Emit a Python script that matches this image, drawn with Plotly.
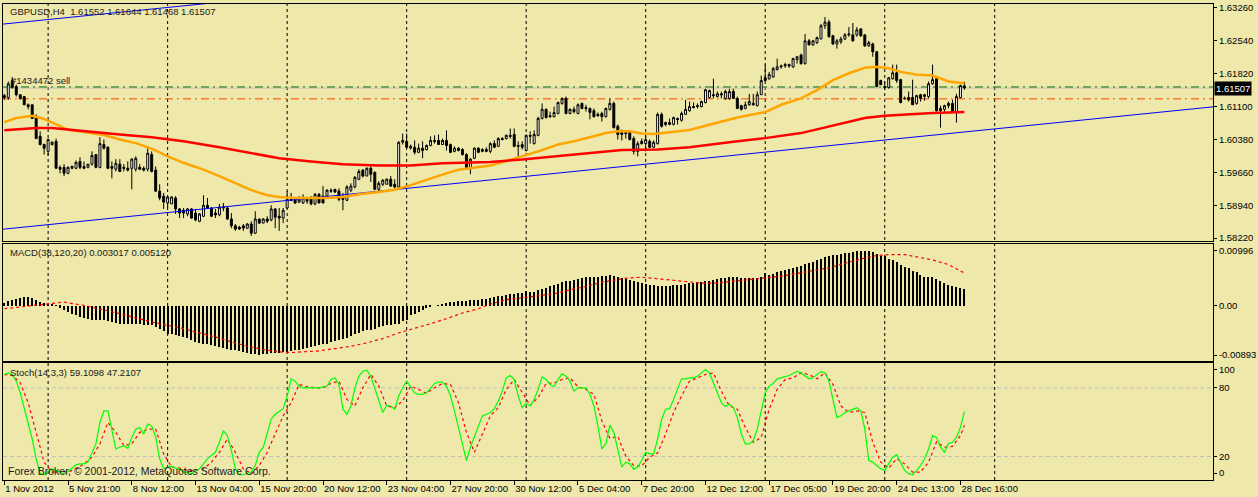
import plotly.graph_objects as go
from plotly.subplots import make_subplots

# GBPUSD H4, bar 0 = 1 Nov 2012, last bar = 28 Dec 20:00
opens = [
    1.6134, 1.6130, 1.6167, 1.6154, 1.6136, 1.6132, 1.6114, 1.6114, 1.6088, 1.6045,
    1.6027, 1.6012, 1.6027, 1.6034, 1.5977, 1.5977, 1.5964, 1.5975, 1.5975, 1.5990,
    1.5979, 1.5977, 1.5984, 1.6005, 1.5977, 1.6027, 1.6021, 1.5979, 1.5973, 1.5984,
    1.5977, 1.5975, 1.5975, 1.5973, 1.5977, 1.5975, 1.5973, 1.6005, 1.5971, 1.5925,
    1.5914, 1.5899, 1.5897, 1.5910, 1.5886, 1.5883, 1.5875, 1.5886, 1.5877, 1.5859,
    1.5870, 1.5894, 1.5888, 1.5877, 1.5873, 1.5888, 1.5888, 1.5864, 1.5849, 1.5846,
    1.5849, 1.5844, 1.5853, 1.5833, 1.5864, 1.5855, 1.5864, 1.5862, 1.5886, 1.5870,
    1.5866, 1.5888, 1.5907, 1.5907, 1.5901, 1.5899, 1.5910, 1.5910, 1.5897, 1.5918,
    1.5914, 1.5914, 1.5927, 1.5929, 1.5925, 1.5910, 1.5905, 1.5927, 1.5934, 1.5951,
    1.5971, 1.5958, 1.5975, 1.5966, 1.5929, 1.5940, 1.5940, 1.5951, 1.5940, 1.5934,
    1.6032, 1.6034, 1.6019, 1.6021, 1.6010, 1.6019, 1.6016, 1.6025, 1.6036, 1.6036,
    1.6027, 1.6036, 1.6027, 1.6012, 1.6019, 1.6016, 1.6005, 1.5975, 1.5997, 1.6019,
    1.6012, 1.6016, 1.6012, 1.6029, 1.6023, 1.6040, 1.6040, 1.6047, 1.6049, 1.6025,
    1.6027, 1.6014, 1.6047, 1.6029, 1.6047, 1.6084, 1.6104, 1.6090, 1.6088, 1.6095,
    1.6117, 1.6128, 1.6095, 1.6104, 1.6095, 1.6117, 1.6108, 1.6106, 1.6101, 1.6093,
    1.6095, 1.6088, 1.6104, 1.6117, 1.6067, 1.6053, 1.6053, 1.6053, 1.6040, 1.6012,
    1.6034, 1.6029, 1.6034, 1.6021, 1.6029, 1.6093, 1.6075, 1.6071, 1.6071, 1.6084,
    1.6080, 1.6093, 1.6101, 1.6110, 1.6110, 1.6110, 1.6119, 1.6130, 1.6136, 1.6132,
    1.6138, 1.6128, 1.6128, 1.6143, 1.6128, 1.6112, 1.6106, 1.6114, 1.6117, 1.6112,
    1.6136, 1.6173, 1.6171, 1.6175, 1.6191, 1.6197, 1.6199, 1.6202, 1.6197, 1.6213,
    1.6223, 1.6204, 1.6254, 1.6245, 1.6250, 1.6258, 1.6287, 1.6295, 1.6265, 1.6247,
    1.6252, 1.6258, 1.6267, 1.6267, 1.6267, 1.6280, 1.6267, 1.6243, 1.6247, 1.6230,
    1.6167, 1.6154, 1.6152, 1.6171, 1.6184, 1.6169, 1.6128, 1.6130, 1.6130, 1.6117,
    1.6136, 1.6132, 1.6132, 1.6160, 1.6171, 1.6106, 1.6104, 1.6112, 1.6117, 1.6099,
    1.6130, 1.61552,
]
highs = [
    1.6138, 1.6165, 1.6175, 1.6158, 1.6136, 1.6132, 1.6117, 1.6114, 1.6093, 1.6056,
    1.6029, 1.6040, 1.6034, 1.6040, 1.5981, 1.5984, 1.5979, 1.5981, 1.5992, 1.5999,
    1.5990, 1.5984, 1.6012, 1.6005, 1.6043, 1.6038, 1.6023, 1.5990, 1.5995, 1.5995,
    1.5984, 1.5990, 1.5997, 1.6001, 1.5984, 1.5979, 1.6019, 1.6012, 1.5979, 1.5940,
    1.5921, 1.5914, 1.5914, 1.5914, 1.5888, 1.5888, 1.5888, 1.5888, 1.5886, 1.5877,
    1.5916, 1.5910, 1.5890, 1.5886, 1.5897, 1.5899, 1.5892, 1.5877, 1.5853, 1.5849,
    1.5853, 1.5855, 1.5859, 1.5881, 1.5864, 1.5866, 1.5870, 1.5894, 1.5888, 1.5888,
    1.5888, 1.5925, 1.5921, 1.5910, 1.5914, 1.5918, 1.5912, 1.5914, 1.5921, 1.5921,
    1.5936, 1.5929, 1.5931, 1.5929, 1.5931, 1.5921, 1.5938, 1.5942, 1.5958, 1.5973,
    1.5973, 1.5977, 1.5979, 1.5968, 1.5947, 1.5951, 1.5953, 1.5958, 1.5951, 1.6034,
    1.6051, 1.6051, 1.6027, 1.6036, 1.6029, 1.6034, 1.6027, 1.6045, 1.6047, 1.6049,
    1.6040, 1.6058, 1.6029, 1.6023, 1.6021, 1.6019, 1.6008, 1.5997, 1.6021, 1.6021,
    1.6019, 1.6021, 1.6032, 1.6036, 1.6043, 1.6043, 1.6049, 1.6062, 1.6062, 1.6034,
    1.6034, 1.6049, 1.6056, 1.6058, 1.6088, 1.6117, 1.6106, 1.6099, 1.6110, 1.6121,
    1.6130, 1.6132, 1.6106, 1.6110, 1.6117, 1.6119, 1.6114, 1.6108, 1.6106, 1.6097,
    1.6099, 1.6108, 1.6128, 1.6121, 1.6071, 1.6060, 1.6058, 1.6056, 1.6045, 1.6034,
    1.6040, 1.6047, 1.6038, 1.6036, 1.6097, 1.6097, 1.6077, 1.6084, 1.6088, 1.6086,
    1.6099, 1.6125, 1.6121, 1.6119, 1.6117, 1.6123, 1.6149, 1.6147, 1.6171, 1.6143,
    1.6143, 1.6147, 1.6149, 1.6149, 1.6132, 1.6114, 1.6121, 1.6138, 1.6138, 1.6143,
    1.6178, 1.6202, 1.6186, 1.6197, 1.6215, 1.6202, 1.6206, 1.6204, 1.6217, 1.6221,
    1.6226, 1.6269, 1.6258, 1.6256, 1.6263, 1.6291, 1.6306, 1.6300, 1.6267, 1.6258,
    1.6263, 1.6271, 1.6284, 1.6293, 1.6284, 1.6282, 1.6269, 1.6254, 1.6250, 1.6232,
    1.6169, 1.6165, 1.6175, 1.6202, 1.6202, 1.6171, 1.6132, 1.6143, 1.6169, 1.6136,
    1.6138, 1.6138, 1.6165, 1.6202, 1.6175, 1.6112, 1.6114, 1.6121, 1.6125, 1.6138,
    1.6158, 1.61644,
]
lows = [
    1.6125, 1.6125, 1.6149, 1.6132, 1.6125, 1.6114, 1.6104, 1.6084, 1.6040, 1.6025,
    1.6005, 1.6003, 1.6025, 1.5975, 1.5964, 1.5958, 1.5962, 1.5973, 1.5973, 1.5973,
    1.5973, 1.5975, 1.5981, 1.5975, 1.5975, 1.6016, 1.5973, 1.5953, 1.5968, 1.5968,
    1.5968, 1.5968, 1.5929, 1.5968, 1.5971, 1.5968, 1.5968, 1.5966, 1.5923, 1.5905,
    1.5886, 1.5888, 1.5897, 1.5875, 1.5866, 1.5866, 1.5870, 1.5864, 1.5859, 1.5857,
    1.5868, 1.5886, 1.5868, 1.5866, 1.5870, 1.5881, 1.5862, 1.5844, 1.5838, 1.5840,
    1.5838, 1.5842, 1.5827, 1.5831, 1.5853, 1.5855, 1.5855, 1.5859, 1.5844, 1.5838,
    1.5855, 1.5886, 1.5903, 1.5897, 1.5899, 1.5897, 1.5897, 1.5894, 1.5894, 1.5899,
    1.5899, 1.5910, 1.5921, 1.5921, 1.5903, 1.5883, 1.5903, 1.5923, 1.5931, 1.5949,
    1.5955, 1.5958, 1.5945, 1.5927, 1.5921, 1.5936, 1.5940, 1.5934, 1.5931, 1.5931,
    1.6027, 1.6019, 1.6016, 1.6005, 1.6008, 1.5997, 1.6014, 1.6023, 1.6029, 1.6027,
    1.6027, 1.6014, 1.6008, 1.6010, 1.6012, 1.6003, 1.5973, 1.5962, 1.5995, 1.6008,
    1.6010, 1.6010, 1.6008, 1.6019, 1.6023, 1.6036, 1.6038, 1.6040, 1.6021, 1.5997,
    1.6016, 1.6012, 1.6029, 1.6027, 1.6045, 1.6082, 1.6084, 1.6086, 1.6086, 1.6093,
    1.6114, 1.6093, 1.6093, 1.6095, 1.6093, 1.6104, 1.6099, 1.6082, 1.6086, 1.6088,
    1.6077, 1.6086, 1.6101, 1.6062, 1.6038, 1.6036, 1.6040, 1.6036, 1.6005, 1.6001,
    1.6027, 1.6012, 1.6019, 1.6019, 1.6027, 1.6064, 1.6067, 1.6069, 1.6069, 1.6071,
    1.6077, 1.6093, 1.6099, 1.6106, 1.6106, 1.6108, 1.6117, 1.6128, 1.6128, 1.6130,
    1.6128, 1.6125, 1.6125, 1.6128, 1.6106, 1.6101, 1.6104, 1.6112, 1.6112, 1.6110,
    1.6136, 1.6165, 1.6169, 1.6173, 1.6189, 1.6193, 1.6195, 1.6195, 1.6195, 1.6204,
    1.6202, 1.6202, 1.6245, 1.6243, 1.6247, 1.6258, 1.6280, 1.6261, 1.6245, 1.6237,
    1.6247, 1.6256, 1.6263, 1.6252, 1.6263, 1.6263, 1.6241, 1.6241, 1.6219, 1.6152,
    1.6158, 1.6147, 1.6149, 1.6169, 1.6162, 1.6117, 1.6125, 1.6121, 1.6114, 1.6114,
    1.6121, 1.6123, 1.6128, 1.6158, 1.6099, 1.6064, 1.6099, 1.6106, 1.6097, 1.6075,
    1.6128, 1.61468,
]
closes = [
    1.6130, 1.6160, 1.6152, 1.6136, 1.6128, 1.6114, 1.6110, 1.6084, 1.6040, 1.6027,
    1.6019, 1.6038, 1.6032, 1.5975, 1.5973, 1.5964, 1.5977, 1.5979, 1.5988, 1.5977,
    1.5975, 1.5984, 1.6003, 1.5977, 1.6029, 1.6019, 1.5975, 1.5975, 1.5986, 1.5968,
    1.5975, 1.5971, 1.5995, 1.5997, 1.5973, 1.5971, 1.6008, 1.5968, 1.5925, 1.5910,
    1.5901, 1.5912, 1.5912, 1.5886, 1.5877, 1.5877, 1.5886, 1.5866, 1.5862, 1.5875,
    1.5894, 1.5888, 1.5870, 1.5873, 1.5890, 1.5890, 1.5864, 1.5849, 1.5842, 1.5842,
    1.5844, 1.5853, 1.5833, 1.5864, 1.5855, 1.5864, 1.5859, 1.5886, 1.5868, 1.5866,
    1.5883, 1.5907, 1.5905, 1.5899, 1.5907, 1.5910, 1.5903, 1.5897, 1.5918, 1.5899,
    1.5899, 1.5927, 1.5925, 1.5923, 1.5907, 1.5907, 1.5934, 1.5936, 1.5955, 1.5968,
    1.5958, 1.5975, 1.5962, 1.5929, 1.5942, 1.5949, 1.5951, 1.5936, 1.5934, 1.6032,
    1.6036, 1.6021, 1.6023, 1.6010, 1.6019, 1.6014, 1.6025, 1.6036, 1.6034, 1.6027,
    1.6036, 1.6025, 1.6010, 1.6019, 1.6014, 1.6005, 1.5977, 1.5995, 1.6019, 1.6010,
    1.6016, 1.6012, 1.6029, 1.6021, 1.6040, 1.6038, 1.6047, 1.6045, 1.6023, 1.6023,
    1.6021, 1.6047, 1.6045, 1.6049, 1.6084, 1.6104, 1.6086, 1.6088, 1.6097, 1.6119,
    1.6128, 1.6095, 1.6104, 1.6099, 1.6114, 1.6106, 1.6106, 1.6097, 1.6088, 1.6090,
    1.6088, 1.6106, 1.6117, 1.6064, 1.6049, 1.6049, 1.6051, 1.6038, 1.6012, 1.6029,
    1.6029, 1.6038, 1.6021, 1.6032, 1.6093, 1.6067, 1.6071, 1.6075, 1.6086, 1.6082,
    1.6095, 1.6104, 1.6110, 1.6108, 1.6112, 1.6121, 1.6147, 1.6145, 1.6134, 1.6138,
    1.6136, 1.6143, 1.6143, 1.6128, 1.6106, 1.6104, 1.6114, 1.6121, 1.6114, 1.6136,
    1.6167, 1.6167, 1.6180, 1.6193, 1.6197, 1.6199, 1.6202, 1.6199, 1.6215, 1.6219,
    1.6204, 1.6254, 1.6245, 1.6254, 1.6261, 1.6287, 1.6295, 1.6263, 1.6247, 1.6254,
    1.6258, 1.6267, 1.6269, 1.6254, 1.6278, 1.6265, 1.6243, 1.6250, 1.6230, 1.6154,
    1.6158, 1.6152, 1.6173, 1.6184, 1.6167, 1.6119, 1.6128, 1.6125, 1.6114, 1.6134,
    1.6128, 1.6136, 1.6160, 1.6169, 1.6101, 1.6101, 1.6112, 1.6117, 1.6099, 1.6132,
    1.6156, 1.61507,
]

# moving averages at these bars
ma_red_idx = [0, 8, 12, 20, 29, 37, 45, 54, 62, 69, 77, 85, 94, 102, 110, 122,
              130, 139, 147, 155, 164, 172, 183, 191, 200, 208, 216, 221, 225, 233, 241]
ma_red = [1.6058, 1.6063, 1.6063, 1.6056, 1.6049, 1.6043, 1.6034, 1.6021, 1.6008,
          1.5997, 1.5990, 1.5984, 1.5981, 1.5981, 1.5986, 1.5989, 1.5994, 1.6001,
          1.6008, 1.6015, 1.6016, 1.6021, 1.6033, 1.6041, 1.6052, 1.6069, 1.6085,
          1.6090, 1.6092, 1.6096, 1.6098]
ma_orange_idx = [0, 3, 7, 10, 16, 20, 25, 29, 33, 37, 41, 45, 50, 54, 58, 62, 66,
                 69, 73, 77, 81, 85, 89, 94, 98, 102, 106, 110, 114, 119, 122, 126,
                 130, 134, 139, 143, 147, 151, 154, 157, 160, 163, 167, 172, 176,
                 180, 184, 191, 195, 200, 204, 208, 212, 216, 219, 222, 225, 229,
                 233, 237, 241]
ma_orange = [1.6076, 1.6085, 1.6090, 1.6083, 1.6059, 1.6054, 1.6048, 1.6038, 1.6030,
             1.6018, 1.6001, 1.5987, 1.5972, 1.5958, 1.5943, 1.5927, 1.5916, 1.5912,
             1.5910, 1.5910, 1.5910, 1.5912, 1.5918, 1.5923, 1.5928, 1.5938, 1.5950,
             1.5961, 1.5972, 1.5977, 1.5981, 1.5991, 1.6001, 1.6012, 1.6027, 1.6034,
             1.6043, 1.6052, 1.6056, 1.6056, 1.6051, 1.6050, 1.6054, 1.6059, 1.6068,
             1.6077, 1.6086, 1.6098, 1.6114, 1.6128, 1.6146, 1.6168, 1.6183, 1.6195,
             1.6197, 1.6194, 1.6186, 1.6180, 1.6178, 1.6165, 1.6161]

# trend channel anchors (bar, price)
trend_idx = [-1, 304]
trend_low = [1.5841, 1.6110]
trend_high = [1.6290, 1.6559]

bid_price = 1.61507
order_price = 1.61530
stop_price = 1.61270

# MACD(38,120,20)
macd_hist = [
    0.00048, 0.00084, 0.00108, 0.00126, 0.00144, 0.00156, 0.00156, 0.00144, 0.00108, 0.00066,
    0.00048, 0.00036, 0.00018, 0.00006, -0.00036, -0.00072, -0.00114, -0.00144, -0.00174, -0.00204,
    -0.00216, -0.00234, -0.00252, -0.00252, -0.00252, -0.00264, -0.00276, -0.00294, -0.00312, -0.00324,
    -0.00324, -0.00336, -0.00336, -0.00336, -0.00336, -0.00342, -0.00342, -0.00354, -0.00384, -0.00414,
    -0.00456, -0.00504, -0.00516, -0.00534, -0.00552, -0.00564, -0.00576, -0.00624, -0.00654, -0.00672,
    -0.00684, -0.00696, -0.00714, -0.00732, -0.00744, -0.00756, -0.00774, -0.00792, -0.00804, -0.00816,
    -0.00834, -0.00852, -0.00864, -0.00876, -0.00893, -0.00876, -0.00864, -0.00852, -0.00852, -0.00852,
    -0.00840, -0.00834, -0.00816, -0.00804, -0.00792, -0.00774, -0.00756, -0.00744, -0.00732, -0.00714,
    -0.00696, -0.00684, -0.00660, -0.00636, -0.00624, -0.00594, -0.00576, -0.00552, -0.00516, -0.00492,
    -0.00456, -0.00444, -0.00432, -0.00414, -0.00384, -0.00372, -0.00354, -0.00342, -0.00324, -0.00324,
    -0.00276, -0.00252, -0.00174, -0.00144, -0.00114, -0.00072, -0.00036, -0.00012, 0.00000, 0.00006,
    0.00036, 0.00048, 0.00060, 0.00066, 0.00078, 0.00084, 0.00084, 0.00096, 0.00096, 0.00108,
    0.00126, 0.00126, 0.00144, 0.00156, 0.00174, 0.00180, 0.00186, 0.00204, 0.00216, 0.00228,
    0.00228, 0.00264, 0.00246, 0.00252, 0.00288, 0.00306, 0.00324, 0.00348, 0.00366, 0.00396,
    0.00426, 0.00444, 0.00456, 0.00468, 0.00486, 0.00504, 0.00516, 0.00522, 0.00516, 0.00516,
    0.00540, 0.00540, 0.00558, 0.00540, 0.00516, 0.00498, 0.00486, 0.00468, 0.00444, 0.00426,
    0.00408, 0.00396, 0.00384, 0.00366, 0.00360, 0.00360, 0.00360, 0.00360, 0.00366, 0.00378,
    0.00384, 0.00396, 0.00408, 0.00408, 0.00426, 0.00438, 0.00456, 0.00456, 0.00468, 0.00486,
    0.00504, 0.00504, 0.00522, 0.00516, 0.00516, 0.00504, 0.00498, 0.00504, 0.00504, 0.00504,
    0.00516, 0.00588, 0.00558, 0.00576, 0.00606, 0.00636, 0.00648, 0.00666, 0.00684, 0.00696,
    0.00726, 0.00756, 0.00774, 0.00786, 0.00828, 0.00846, 0.00888, 0.00906, 0.00918, 0.00924,
    0.00936, 0.00948, 0.00954, 0.00966, 0.00984, 0.00984, 0.00984, 0.00996, 0.00966, 0.00936,
    0.00906, 0.00906, 0.00846, 0.00828, 0.00786, 0.00744, 0.00708, 0.00684, 0.00636, 0.00606,
    0.00564, 0.00528, 0.00516, 0.00516, 0.00486, 0.00456, 0.00408, 0.00384, 0.00348, 0.00336,
    0.00324, 0.003017,
]
signal_idx = [0, 12, 15, 20, 25, 29, 33, 37, 41, 45, 49, 53, 57, 61, 65, 69, 72, 75,
              79, 83, 87, 91, 95, 99, 103, 107, 111, 115, 119, 122, 126, 130, 134,
              138, 142, 146, 150, 153, 156, 160, 163, 167, 171, 175, 179, 183, 187,
              191, 195, 199, 203, 207, 211, 215, 219, 222, 226, 229, 233, 237, 241]
macd_signal = [-0.00054, 0.00048, 0.00066, 0.00006, -0.00072, -0.00144, -0.00216,
               -0.00294, -0.00354, -0.00414, -0.00492, -0.00564, -0.00654, -0.00732,
               -0.00792, -0.00834, -0.00846, -0.00834, -0.00816, -0.00774, -0.00732,
               -0.00672, -0.00594, -0.00492, -0.00414, -0.00324, -0.00234, -0.00132,
               -0.00054, 0.00030, 0.00108, 0.00144, 0.00186, 0.00216, 0.00288, 0.00348,
               0.00426, 0.00468, 0.00498, 0.00516, 0.00498, 0.00474, 0.00438, 0.00408,
               0.00408, 0.00444, 0.00468, 0.00504, 0.00534, 0.00588, 0.00636, 0.00684,
               0.00768, 0.00846, 0.00906, 0.00924, 0.00924, 0.00888, 0.00828, 0.00744,
               0.00590]

# Stochastic(14,3,3)
stoch_k = [
    91.6, 93.0, 91.6, 85.8, 75.7, 62.7, 49.7, 35.3, 18.0, 5.0,
    4.1, 6.4, 9.3, 7.9, 6.4, 5.0, 7.0, 9.9, 12.8, 13.6,
    13.6, 15.1, 23.7, 31.0, 49.7, 59.8, 59.8, 43.9, 26.6, 28.1,
    29.5, 27.2, 36.7, 43.9, 45.4, 39.6, 48.3, 46.8, 36.7, 18.0,
    9.3, 10.8, 11.6, 9.9, 8.8, 6.4, 6.4, 5.0, 7.9, 9.3,
    13.6, 18.0, 20.9, 23.7, 32.4, 42.5, 38.2, 25.2, 9.3, 4.1,
    4.1, 5.0, 6.4, 12.2, 23.7, 28.1, 41.1, 52.6, 56.9, 59.0,
    61.8, 72.8, 87.8, 85.8, 81.5, 80.0, 80.0, 80.6, 80.0, 80.0,
    80.9, 81.5, 87.2, 88.7, 82.9, 61.3, 56.9, 64.1, 80.0, 90.1,
    94.4, 95.3, 90.1, 80.0, 68.5, 58.4, 64.7, 64.1, 61.3, 72.8,
    80.0, 85.8, 80.9, 75.7, 74.2, 74.2, 75.7, 80.0, 83.8, 84.9,
    84.9, 81.5, 72.8, 59.8, 45.4, 29.5, 16.5, 28.1, 36.7, 45.4,
    55.5, 56.9, 58.4, 61.8, 68.5, 77.1, 88.7, 90.7, 87.2, 72.8,
    62.7, 66.5, 64.1, 69.9, 78.6, 89.5, 87.2, 82.9, 80.9, 87.2,
    92.4, 90.1, 85.8, 77.1, 80.0, 80.0, 80.0, 74.2, 64.1, 46.8,
    26.6, 31.0, 47.4, 41.1, 26.6, 10.8, 15.1, 13.6, 8.8, 10.8,
    16.5, 23.7, 22.3, 22.3, 35.3, 52.6, 61.3, 61.8, 69.9, 78.6,
    87.8, 87.8, 88.7, 88.7, 90.1, 93.0, 95.9, 93.0, 84.3, 74.2,
    67.0, 63.6, 65.6, 62.7, 54.0, 39.6, 31.0, 31.0, 33.8, 43.9,
    59.8, 75.7, 81.5, 83.8, 87.8, 88.7, 89.5, 90.7, 92.4, 94.4,
    93.0, 90.7, 87.8, 88.7, 91.6, 94.1, 93.0, 85.8, 69.9, 54.0,
    55.5, 58.4, 59.8, 61.3, 62.7, 59.8, 43.9, 16.5, 15.1, 12.2,
    9.3, 7.9, 13.6, 19.4, 21.4, 15.1, 7.9, 5.0, 4.1, 7.9,
    12.2, 18.0, 26.6, 38.2, 36.7, 28.1, 23.7, 31.5, 32.4, 36.7,
    45.4, 59.11,
]
# %D read every second bar, plus the last bar
stoch_d_idx = list(range(0, 241, 2)) + [241]
stoch_d = [
    91.6, 90.7, 84.3, 67.0, 41.1, 15.1, 6.4, 7.0, 6.4, 9.3,
    13.6, 19.4, 31.0, 49.7, 41.1, 29.5, 31.0, 41.1, 43.9, 43.9,
    22.3, 10.8, 9.9, 7.9, 7.9, 9.3, 15.1, 23.7, 35.3, 23.7,
    9.3, 5.0, 12.2, 23.7, 39.6, 55.5, 67.0, 82.9, 80.9, 80.0,
    80.0, 83.8, 85.8, 69.9, 64.1, 80.0, 91.6, 81.5, 64.1, 62.7,
    68.5, 81.5, 78.6, 75.1, 80.0, 83.8, 82.9, 67.0, 41.1, 23.7,
    39.6, 55.5, 62.7, 78.6, 87.2, 75.7, 64.7, 71.4, 83.8, 84.3,
    87.2, 88.7, 80.9, 78.6, 74.2, 51.2, 35.9, 37.6, 20.3, 12.2,
    11.6, 19.4, 23.2, 39.6, 58.4, 72.8, 85.8, 88.7, 91.6, 93.0,
    77.1, 64.1, 61.3, 45.4, 32.4, 36.7, 61.3, 78.6, 87.2, 88.7,
    93.0, 91.6, 87.8, 93.0, 82.9, 64.1, 58.4, 59.8, 58.4, 32.4,
    15.1, 9.9, 18.0, 13.6, 6.4, 6.4, 15.1, 32.7, 28.1, 28.9,
    38.2, 47.21,
]

date_labels = ["1 Nov 2012", "5 Nov 21:00", "8 Nov 12:00", "13 Nov 04:00",
               "15 Nov 20:00", "20 Nov 12:00", "23 Nov 04:00", "27 Nov 20:00",
               "30 Nov 12:00", "5 Dec 04:00", "7 Dec 20:00", "12 Dec 12:00",
               "17 Dec 05:00", "19 Dec 20:00", "24 Dec 13:00", "28 Dec 16:00"]
label_bars = list(range(0, 241, 16))
grid_bars = [11, 41, 71, 101, 131, 161, 191, 221, 248.6]

price_ticks = [1.58220, 1.58940, 1.59660, 1.60380, 1.61100, 1.61820, 1.62540, 1.63260]
macd_ticks = [-0.00893, 0.0, 0.00996]
macd_tick_text = ["-0.00893", "0.00", "0.00996"]
# MT4 pulls the 0 / 100 captions inside the window
stoch_tick_pos = [5.6, 20, 80, 95.6]
stoch_tick_text = ["0", "20", "80", "100"]

BG = "#EEE8AA"
FONT = "Liberation Sans, Arial, sans-serif"
W, H = 1258, 497
ML, MR, MT, MB = 2, 41, 2, 17


def px_x(px):
    return (px - ML) / (W - ML - MR)


def px_y(py):
    return (H - MB - py) / (H - MT - MB)


bars = list(range(len(closes)))

fig = make_subplots(rows=3, cols=1, shared_xaxes=True)

# channel lines
for tl in (trend_low, trend_high):
    fig.add_trace(go.Scatter(x=trend_idx, y=tl, mode="lines",
                             line=dict(color="#0000FF", width=1)), row=1, col=1)

fig.add_trace(go.Candlestick(
    x=bars, open=opens, high=highs, low=lows, close=closes,
    increasing=dict(line=dict(color="black", width=1), fillcolor="white"),
    decreasing=dict(line=dict(color="black", width=1), fillcolor="black"),
    whiskerwidth=0, hoverinfo="skip"), row=1, col=1)

fig.add_trace(go.Scatter(x=ma_orange_idx, y=ma_orange, mode="lines",
                         line=dict(color="#FFA500", width=2.5)), row=1, col=1)
fig.add_trace(go.Scatter(x=ma_red_idx, y=ma_red, mode="lines",
                         line=dict(color="#FF0000", width=2.5)), row=1, col=1)

# MACD
fig.add_trace(go.Bar(x=bars, y=macd_hist, width=0.3, marker=dict(color="black", line=dict(width=0))),
              row=2, col=1)
fig.add_trace(go.Scatter(x=signal_idx, y=macd_signal, mode="lines",
                         line=dict(color="#FF0000", width=1.2, dash="3px,3px")), row=2, col=1)

# Stochastic
fig.add_trace(go.Scatter(x=stoch_d_idx, y=stoch_d, mode="lines",
                         line=dict(color="#FF0000", width=1.2, dash="3px,3px")), row=3, col=1)
fig.add_trace(go.Scatter(x=bars, y=stoch_k, mode="lines",
                         line=dict(color="#00FF00", width=1.2)), row=3, col=1)

shapes = []
for b in grid_bars:
    shapes.append(dict(type="line", xref="x", yref="paper", x0=b, x1=b, y0=0, y1=1,
                       line=dict(color="black", width=1, dash="3px,3px"), layer="below"))
for lvl in (20, 80):
    shapes.append(dict(type="line", xref="x3 domain", yref="y3", x0=0, x1=1, y0=lvl, y1=lvl,
                       line=dict(color="#C0C0C0", width=1, dash="4px,3px"), layer="below"))
shapes.append(dict(type="line", xref="x domain", yref="y", x0=0, x1=1, y0=bid_price, y1=bid_price,
                   line=dict(color="#C0C0C0", width=1), layer="below"))
shapes.append(dict(type="line", xref="x domain", yref="y", x0=0, x1=1, y0=order_price, y1=order_price,
                   line=dict(color="#007000", width=1, dash="8px,4px,2px,4px"), layer="below"))
shapes.append(dict(type="line", xref="x domain", yref="y", x0=0, x1=1, y0=stop_price, y1=stop_price,
                   line=dict(color="#FF4500", width=1, dash="8px,4px,2px,4px"), layer="below"))

annotations = [
    dict(text="GBPUSD,H4\u00a0\u00a01.61552 1.61644 1.61468 1.61507", x=px_x(7), y=px_y(10)),
    dict(text="#1434472 sell", x=px_x(8), y=px_y(79)),
    dict(text="MACD(38,120,20) 0.003017 0.005120", x=px_x(7), y=px_y(252)),
    dict(text="Stoch(14,3,3) 59.1098 47.2107", x=px_x(7), y=px_y(372)),
    dict(text="Forex Broker, \u00a9 2001-2012, MetaQuotes Software Corp.", x=px_x(5), y=px_y(471),
         font=dict(size=10.5, color="#202020", family=FONT)),
]
for a in annotations:
    a.update(xref="paper", yref="paper", xanchor="left", yanchor="middle", showarrow=False)
    a.setdefault("font", dict(size=9.5, color="#202020", family=FONT))
annotations.append(dict(text="1.61507", xref="paper", yref="y", x=1.0, y=bid_price,
                        xanchor="left", yanchor="middle", showarrow=False, bgcolor="black",
                        font=dict(size=9.5, color="white", family=FONT), borderpad=1, xshift=1))

fig.update_layout(
    width=W, height=H, margin=dict(l=ML, r=MR, t=MT, b=MB),
    paper_bgcolor=BG, plot_bgcolor=BG, showlegend=False, bargap=0,
    font=dict(family=FONT, size=9.5, color="black"),
    shapes=shapes, annotations=annotations, hovermode=False,
)

axis_line = dict(showline=True, linecolor="black", linewidth=1, mirror=True,
                 showgrid=False, zeroline=False)
xr = [-0.325, 303.4]
fig.update_xaxes(range=xr, **axis_line)
fig.update_xaxes(showticklabels=False, ticks="", rangeslider_visible=False, row=1, col=1)
fig.update_xaxes(showticklabels=False, ticks="", row=2, col=1)
fig.update_xaxes(tickvals=label_bars, ticktext=date_labels, ticks="outside", ticklen=4,
                 tickcolor="black", ticklabelposition="outside right", tickangle=0,
                 tickfont=dict(size=9.5, family=FONT), row=3, col=1)

ycommon = dict(side="right", ticks="outside", ticklen=3, tickcolor="black",
               tickfont=dict(size=9.5, family=FONT, color="black"), **axis_line)
fig.update_layout(
    yaxis=dict(domain=[px_y(240), px_y(2)], range=[1.58158, 1.63346],
               tickvals=price_ticks, ticktext=["%.5f" % t for t in price_ticks], **ycommon),
    yaxis2=dict(domain=[px_y(360), px_y(243)], range=[-0.0099, 0.01116],
                tickvals=macd_ticks, ticktext=macd_tick_text, **ycommon),
    yaxis3=dict(domain=[0, px_y(362.5)], range=[-0.5, 101.65],
                tickvals=stoch_tick_pos, ticktext=stoch_tick_text, **ycommon),
)

fig.write_html("out.html", config={"displayModeBar": False},
               post_script="document.body.style.margin='0';document.body.style.background='%s';" % BG)
